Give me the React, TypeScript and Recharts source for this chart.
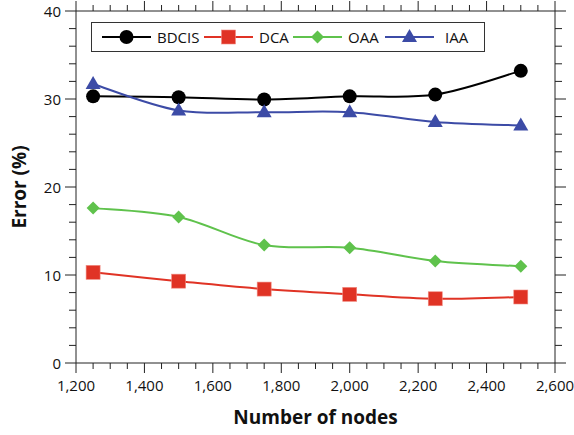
import React from "react";
import { LineChart, Line, XAxis, YAxis, Legend } from "recharts";

const nodes = [1250, 1500, 1750, 2000, 2250, 2500];
const bdcis = [30.3, 30.2, 29.95, 30.3, 30.5, 33.2];
const dca = [10.3, 9.3, 8.4, 7.8, 7.3, 7.5];
const oaa = [17.6, 16.6, 13.4, 13.1, 11.6, 11.0];
const iaa = [31.7, 28.7, 28.5, 28.5, 27.4, 27.0];

const xTicks = Array.from({ length: 29 }, (_, i) => 1200 + i * 50);
const yTicks = Array.from({ length: 21 }, (_, i) => i * 2);

type Shape = "circle" | "square" | "diamond" | "triangle";

const SERIES: { key: string; color: string; shape: Shape; values: number[] }[] = [
  { key: "BDCIS", color: "#000000", shape: "circle", values: bdcis },
  { key: "DCA", color: "#e03325", shape: "square", values: dca },
  { key: "OAA", color: "#5fc24c", shape: "diamond", values: oaa },
  { key: "IAA", color: "#3c4ba6", shape: "triangle", values: iaa },
];

const data = nodes.map((n, i) => {
  const row: Record<string, number> = { nodes: n };
  SERIES.forEach((s) => (row[s.key] = s.values[i]));
  return row;
});

const FONT = "'Open Sans', 'DejaVu Sans', sans-serif";
const AXIS = "#222";

// uniform Catmull-Rom through the points, like a spreadsheet "smoothed line"
const smoothCurve = (context: any) => {
  let pts: [number, number][] = [];
  return {
    areaStart() {},
    areaEnd() {},
    lineStart() {
      pts = [];
    },
    lineEnd() {
      if (!pts.length) return;
      context.moveTo(pts[0][0], pts[0][1]);
      for (let i = 0; i < pts.length - 1; i++) {
        const p0 = pts[i - 1] || pts[i];
        const p1 = pts[i];
        const p2 = pts[i + 1];
        const p3 = pts[i + 2] || p2;
        context.bezierCurveTo(
          p1[0] + (p2[0] - p0[0]) / 6,
          p1[1] + (p2[1] - p0[1]) / 6,
          p2[0] - (p3[0] - p1[0]) / 6,
          p2[1] - (p3[1] - p1[1]) / 6,
          p2[0],
          p2[1]
        );
      }
    },
    point(x: number, y: number) {
      pts.push([x, y]);
    },
  };
};

function Marker({ shape, cx, cy, color }: { shape: Shape; cx: number; cy: number; color: string }) {
  if (cx == null || cy == null) return null;
  if (shape === "circle") return <circle cx={cx} cy={cy} r={7} fill={color} />;
  if (shape === "square") return <rect x={cx - 7} y={cy - 7} width={14} height={14} fill={color} stroke="#f08a80" strokeWidth={0.6} />;
  if (shape === "diamond")
    return <polygon points={`${cx},${cy - 6.5} ${cx + 6.5},${cy} ${cx},${cy + 6.5} ${cx - 6.5},${cy}`} fill={color} />;
  return <polygon points={`${cx},${cy - 8} ${cx + 7.5},${cy + 5} ${cx - 7.5},${cy + 5}`} fill={color} />;
}

const isMajorX = (v: number) => v % 200 === 0;
const isMajorY = (v: number) => v % 10 === 0;

function BottomTick({ x, y, payload }: any) {
  const major = isMajorX(payload.value);
  return (
    <g>
      <line x1={x} x2={x} y1={y} y2={y + (major ? 10 : 6)} stroke={AXIS} />
      {major && (
        <text x={x} y={y + 28} textAnchor="middle" fontSize={15} fontFamily={FONT} fill="#111">
          {payload.value.toLocaleString("en-US")}
        </text>
      )}
    </g>
  );
}

function TopTick({ x, y, payload }: any) {
  const major = isMajorX(payload.value);
  return <line x1={x} x2={x} y1={y} y2={y - (major ? 10 : 6)} stroke={AXIS} />;
}

function LeftTick({ x, y, payload }: any) {
  const major = isMajorY(payload.value);
  return (
    <g>
      <line x1={x - (major ? 11 : 7)} x2={x} y1={y} y2={y} stroke={AXIS} />
      {major && (
        <text x={x - 15} y={y + 5.5} textAnchor="end" fontSize={15} fontFamily={FONT} fill="#111">
          {payload.value}
        </text>
      )}
    </g>
  );
}

function RightTick({ x, y, payload }: any) {
  const major = isMajorY(payload.value);
  return <line x1={x} x2={x + (major ? 11 : 7)} y1={y} y2={y} stroke={AXIS} />;
}

// slot widths of the legend entries, left to right
const LEGEND_SLOTS = [102, 89, 92, 99];

function LegendBox() {
  return (
    <div
      style={{
        display: "flex",
        alignItems: "center",
        width: 382,
        height: 28,
        padding: "0 0 0 10px",
        border: "1px solid #333",
        background: "#fff",
        fontFamily: FONT,
        fontSize: 15,
        color: "#111",
        boxSizing: "content-box",
      }}
    >
      {SERIES.map((s, i) => (
        <div key={s.key} style={{ display: "flex", alignItems: "center", width: LEGEND_SLOTS[i], flex: "none" }}>
          <svg width={49} height={20}>
            <line x1={0} x2={49} y1={10} y2={10} stroke={s.color} strokeWidth={2} />
            <Marker shape={s.shape} cx={24.5} cy={10} color={s.color} />
          </svg>
          <span style={{ marginLeft: s.key === "IAA" ? 11 : 6 }}>{s.key}</span>
        </div>
      ))}
    </div>
  );
}

export default function App() {
  return (
    <div style={{ position: "absolute", left: 0, top: 0 }}>
      <LineChart width={574} height={435} data={data} margin={{ top: 0, right: 0, bottom: 0, left: 0 }}>
        <XAxis
          xAxisId="b"
          dataKey="nodes"
          type="number"
          domain={[1200, 2600]}
          ticks={xTicks}
          interval={0}
          height={72}
          tickSize={0}
          tickMargin={0}
          tick={<BottomTick />}
          axisLine={{ stroke: AXIS }}
          allowDataOverflow
          label={{
            value: "Number of nodes",
            position: "insideBottom",
            offset: 11,
            style: { fontFamily: FONT, fontSize: 19, fontWeight: 700, fill: "#111" },
          }}
        />
        <XAxis
          xAxisId="t"
          orientation="top"
          dataKey="nodes"
          type="number"
          domain={[1200, 2600]}
          ticks={xTicks}
          interval={0}
          height={11}
          tickSize={0}
          tickMargin={0}
          tick={<TopTick />}
          axisLine={{ stroke: AXIS }}
          allowDataOverflow
        />
        <YAxis
          yAxisId="l"
          type="number"
          domain={[0, 40]}
          ticks={yTicks}
          interval={0}
          width={76}
          tickSize={0}
          tickMargin={0}
          tick={<LeftTick />}
          axisLine={{ stroke: AXIS }}
          allowDataOverflow
          label={{
            content: (props: any) => {
              const vb = props.viewBox || { x: 0, y: 11, width: 76, height: 352 };
              const cx = vb.x + 26;
              const cy = vb.y + vb.height / 2;
              return (
                <text
                  x={cx}
                  y={cy}
                  transform={`rotate(-90 ${cx} ${cy})`}
                  textAnchor="middle"
                  fontFamily={FONT}
                  fontSize={19}
                  fontWeight={700}
                  fill="#111"
                >
                  Error (%)
                </text>
              );
            },
          }}
        />
        <YAxis
          yAxisId="r"
          orientation="right"
          type="number"
          domain={[0, 40]}
          ticks={yTicks}
          interval={0}
          width={19}
          tickSize={0}
          tickMargin={0}
          tick={<RightTick />}
          axisLine={{ stroke: AXIS }}
          allowDataOverflow
        />
        <Legend
          verticalAlign="middle"
          wrapperStyle={{ position: "absolute", left: 91, top: 22, width: "auto" }}
          content={() => <LegendBox />}
        />
        {SERIES.map((s) => (
          <Line
            key={s.key}
            xAxisId="b"
            yAxisId="l"
            dataKey={s.key}
            type={smoothCurve as any}
            stroke={s.color}
            strokeWidth={2}
            isAnimationActive={false}
            dot={(p: any) => <Marker key={`${s.key}-${p.index}`} shape={s.shape} cx={p.cx} cy={p.cy} color={s.color} />}
            activeDot={false}
          />
        ))}
      </LineChart>
    </div>
  );
}
